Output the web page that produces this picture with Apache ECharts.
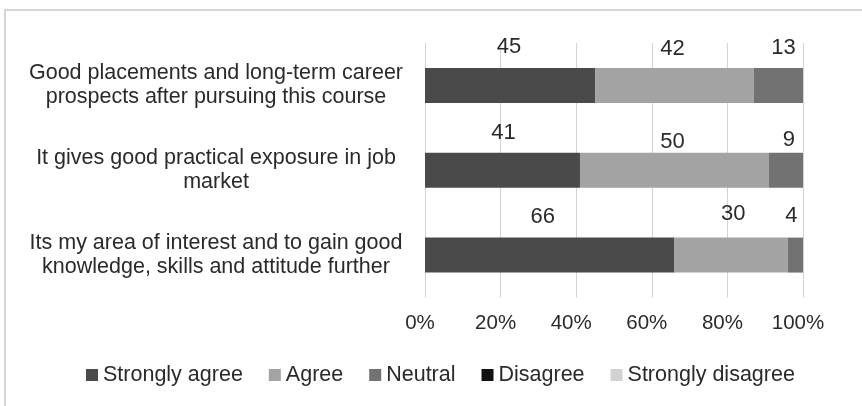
<!DOCTYPE html>
<html>
<head>
<meta charset="utf-8">
<script src="https://cdn.jsdelivr.net/npm/echarts@6/dist/echarts.min.js"></script>
<style>
  html, body { margin: 0; padding: 0; background: #fff; overflow: hidden; width: 862px; height: 406px; }
  #wrap { position: relative; width: 862px; height: 406px; overflow: hidden; }
  #chart { position: absolute; left: 0; top: 0; width: 862px; height: 406px; }
  #frame {
    position: absolute; left: 4px; top: 9px; right: 0; bottom: 0;
    border-top: 2px solid #d6d6d6; border-left: 2px solid #d6d6d6;
    pointer-events: none;
  }
</style>
</head>
<body>
<div id="wrap">
  <div id="chart"></div>
  <div id="frame"></div>
</div>
<script>
// Survey statements (top to bottom)
const statements = [
  'Good placements and long-term career\nprospects after pursuing this course',
  'It gives good practical exposure in job\nmarket',
  'Its my area of interest and to gain good\nknowledge, skills and attitude further'
];

// Response shares, percent of respondents per statement
const stronglyAgree = [45, 41, 66];
const agree = [42, 50, 30];
const neutral = [13, 9, 4];
const disagree = [0, 0, 0];
const stronglyDisagree = [0, 0, 0];

const responseNames = ['Strongly agree', 'Agree', 'Neutral', 'Disagree', 'Strongly disagree'];
const responseColors = ['#4a4a4a', '#a3a3a3', '#727272', '#111111', '#d2d2d2'];

// Axis tick values (percent)
const pctTicks = [0, 20, 40, 60, 80, 100];

// Small per-label nudges [dx, dy] for the value labels above the bars
const labelNudge = [
  [[-1, -1], [1, 0], [-7, -1]],
  [[-2, 1], [-2, 9], [2, -4]],
  [[5, 0], [3, 7], [-4, -2]]
];

const textColor = '#2a2a2a';
const fontFamily = '"Liberation Sans", Arial, sans-serif';

const seriesValues = [stronglyAgree, agree, neutral, disagree, stronglyDisagree];

const series = seriesValues.map((vals, si) => ({
  name: responseNames[si],
  type: 'bar',
  stack: 'share',
  barWidth: 35,
  itemStyle: { color: responseColors[si] },
  data: vals.map((v, ri) => ({
    value: v,
    label: {
      show: v > 0,
      position: 'top',
      distance: 10,
      offset: (labelNudge[si] && labelNudge[si][ri]) || [0, 0]
    }
  })),
  label: {
    color: textColor,
    fontFamily: fontFamily,
    fontSize: 22,
    lineHeight: 20,
    formatter: p => String(p.value)
  }
}));

const chart = echarts.init(document.getElementById('chart'), null, { renderer: 'canvas' });
chart.setOption({
  animation: false,
  backgroundColor: '#ffffff',
  grid: { left: 425, right: 59, top: 43, bottom: 108.5, containLabel: false },
  xAxis: {
    type: 'value',
    min: pctTicks[0],
    max: pctTicks[pctTicks.length - 1],
    interval: pctTicks[1] - pctTicks[0],
    axisLine: { show: false },
    axisTick: { show: false },
    splitLine: { show: true, lineStyle: { color: '#d3d3d3', width: 1 } },
    axisLabel: {
      color: textColor,
      fontFamily: fontFamily,
      fontSize: 20.5,
      margin: 15,
      padding: [0, 10, 0, 0],
      formatter: '{value}%'
    }
  },
  yAxis: {
    type: 'category',
    inverse: true,
    data: statements,
    axisLine: { show: false },
    axisTick: { show: false },
    axisLabel: {
      color: textColor,
      fontFamily: fontFamily,
      fontSize: 21.5,
      lineHeight: 24,
      align: 'center',
      margin: 209
    }
  },
  legend: {
    bottom: 20,
    left: 86,
    padding: 0,
    icon: 'rect',
    itemWidth: 12,
    itemHeight: 12,
    itemGap: 26,
    textStyle: { color: textColor, fontFamily: fontFamily, fontSize: 21.5 },
    data: responseNames
  },
  series: series
});
</script>
</body>
</html>
